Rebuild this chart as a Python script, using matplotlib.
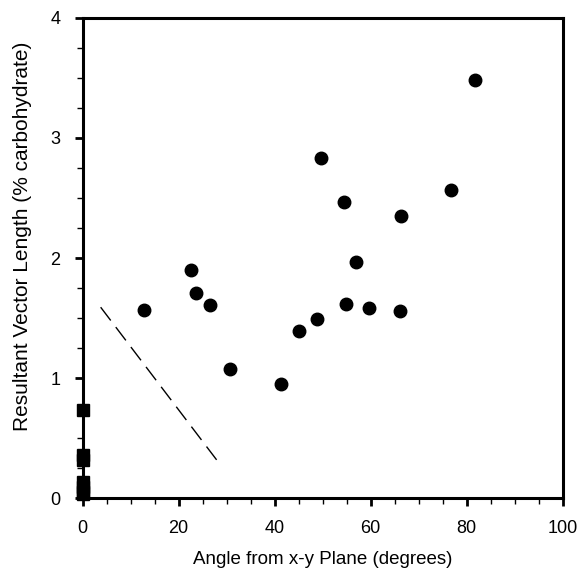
import matplotlib
matplotlib.use("Agg")
import matplotlib.pyplot as plt
from matplotlib.ticker import MultipleLocator

plt.rcParams['font.family'] = ['Liberation Sans', 'DejaVu Sans']

# angle (deg) vs resultant vector length
angle = [12.8, 22.5, 23.6, 26.5, 30.7, 41.3, 45.1, 48.8, 49.6, 54.5,
         54.9, 56.9, 59.7, 66.2, 66.4, 76.8, 81.7]
length = [1.57, 1.90, 1.71, 1.605, 1.075, 0.95, 1.39, 1.49, 2.83, 2.47,
          1.62, 1.97, 1.58, 1.56, 2.35, 2.57, 3.48]

# squares sitting on the zero-angle line
sq_angle = [0, 0, 0, 0, 0, 0, 0]
sq_length = [0.73, 0.355, 0.315, 0.13, 0.09, 0.05, 0.03]

# dashed guide line
dash_x = [3.75, 28.25]
dash_y = [1.59, 0.30]

fig = plt.figure(figsize=(5.78, 5.71), dpi=100)
ax = fig.add_axes([0.143, 0.1278, 0.8305, 0.8407])

ax.plot(angle, length, 'o', color='black', markersize=9, clip_on=False, zorder=3)
ax.plot(sq_angle, sq_length, 's', color='black', markersize=8, clip_on=False, zorder=3)
ax.plot(dash_x, dash_y, color='black', linewidth=1, dashes=(12, 6))

ax.set_xlim(0, 100)
ax.set_ylim(0, 4)
ax.xaxis.set_major_locator(MultipleLocator(20))
ax.xaxis.set_minor_locator(MultipleLocator(5))
ax.yaxis.set_major_locator(MultipleLocator(1))
ax.yaxis.set_minor_locator(MultipleLocator(0.25))

for s in ax.spines.values():
    s.set_linewidth(2.2)
ax.tick_params(which='major', direction='out', length=6, width=2, labelsize=13)
ax.tick_params(axis='x', which='major', pad=10)
ax.tick_params(axis='y', which='major', pad=10)
ax.tick_params(which='minor', direction='out', length=4, width=1)

ax.set_xlabel("Angle from x-y Plane (degrees)", fontsize=13.5)
ax.set_ylabel("Resultant Vector Length (% carbohydrate)", fontsize=15)
ax.xaxis.set_label_coords(0.5, -0.11)
ax.yaxis.set_label_coords(-0.105, 0.545)

fig.savefig("out.png", dpi=100)
